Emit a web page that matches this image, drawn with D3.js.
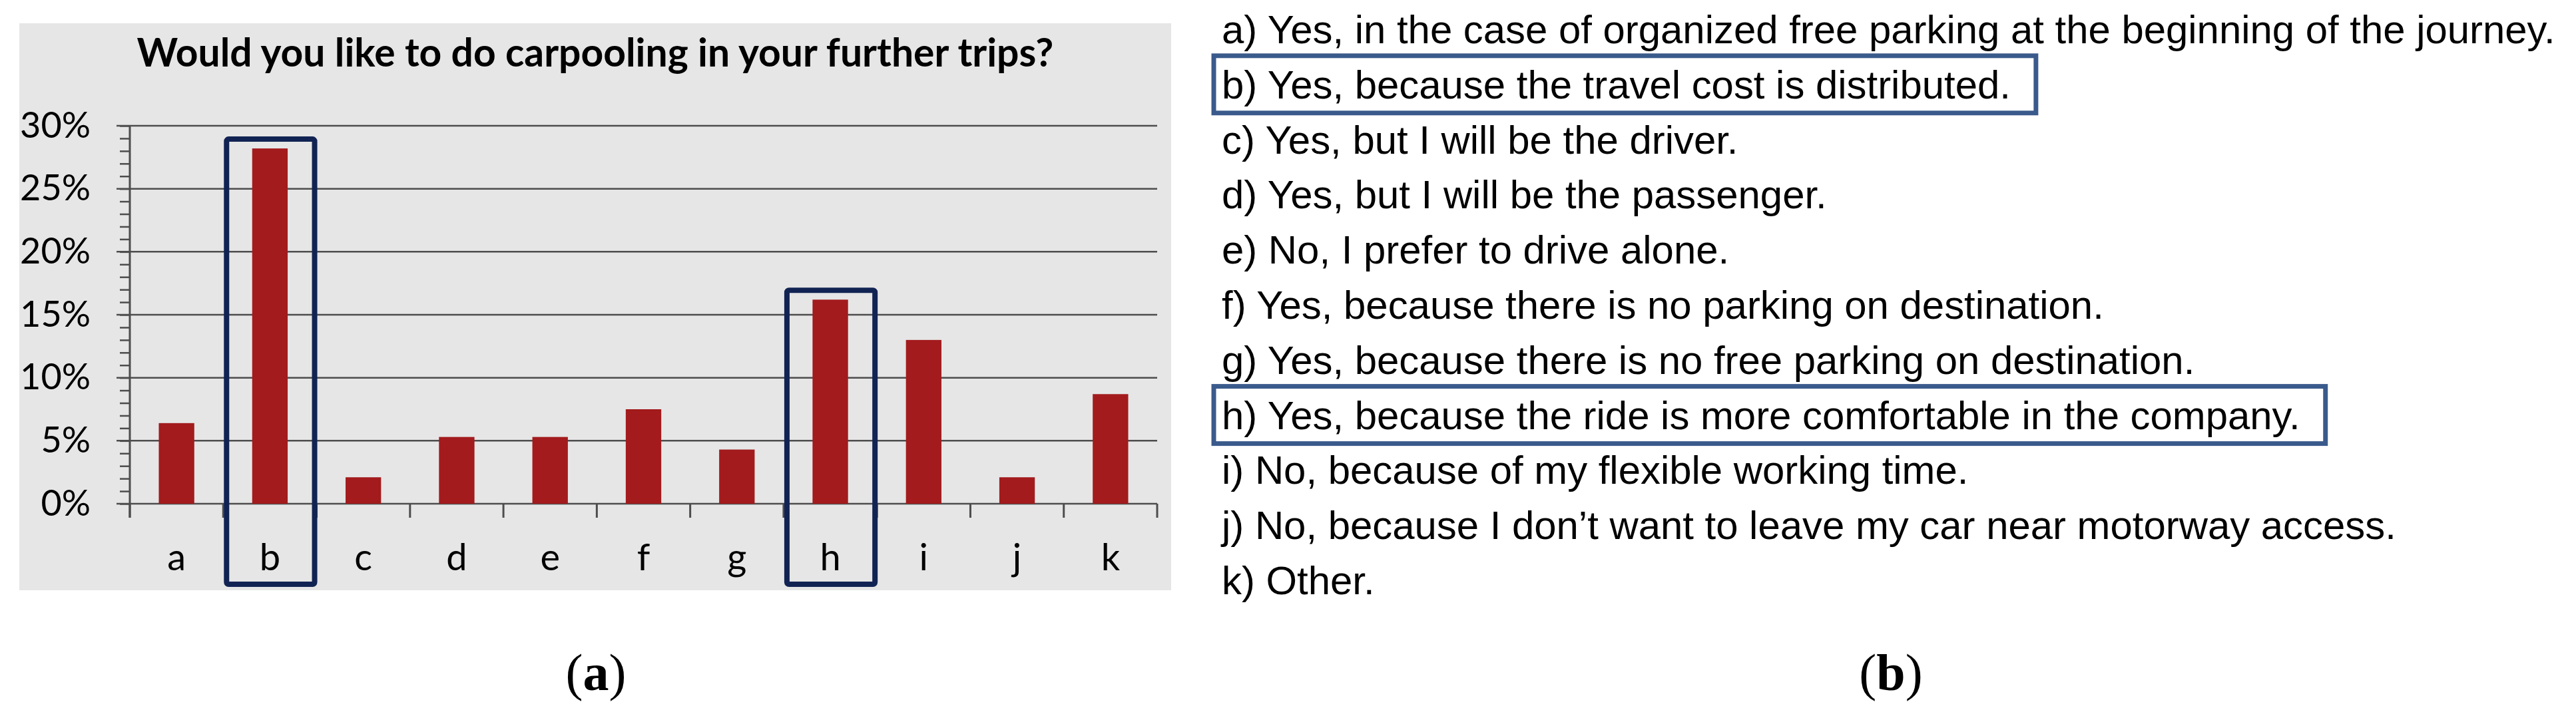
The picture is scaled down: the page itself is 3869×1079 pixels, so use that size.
<!DOCTYPE html>
<html>
  <head>
    <meta charset="utf-8">
    <title>Carpooling survey</title>
    <script src="https://d3js.org/d3.v7.min.js"></script>
    <style>
      body { margin: 0; background: #fff; }
      svg { display: block; }
    </style>
  </head>
  <body>
    <div id="chart"></div>
    <script>
      // survey answers, share of respondents
      const categories = ["a", "b", "c", "d", "e", "f", "g", "h", "i", "j", "k"];
      const shares = [0.064, 0.282, 0.021, 0.053, 0.053, 0.075, 0.043, 0.162, 0.130, 0.021, 0.087];
      const highlighted = ["b", "h"];
      const yTicks = [0, 0.05, 0.10, 0.15, 0.20, 0.25, 0.30];
      const chartTitle = "Would you like to do carpooling in your further trips?";
      const answers = [
        "a) Yes, in the case of organized free parking at the beginning of the journey.",
        "b) Yes, because the travel cost is distributed.",
        "c) Yes, but I will be the driver.",
        "d) Yes, but I will be the passenger.",
        "e) No, I prefer to drive alone.",
        "f) Yes, because there is no parking on destination.",
        "g) Yes, because there is no free parking on destination.",
        "h) Yes, because the ride is more comfortable in the company.",
        "i) No, because of my flexible working time.",
        "j) No, because I don\u2019t want to leave my car near motorway access.",
        "k) Other."
      ];

      const width = 3869, height = 1079;
      const svg = d3.select("#chart").append("svg")
          .attr("width", width)
          .attr("height", height);

      // ---- panel (a): the bar chart ----
      const plot = {left: 195, right: 1738, top: 189, bottom: 757};

      svg.append("rect")
          .attr("x", 29).attr("y", 35)
          .attr("width", 1759 - 29).attr("height", 887 - 35)
          .attr("fill", "#e6e6e6");

      const title = svg.append("text")
          .attr("x", 894).attr("y", 100)
          .attr("text-anchor", "middle")
          .style("font-family", "Lato, 'Open Sans', sans-serif")
          .style("font-weight", "bold")
          .style("font-size", "56px")
          .text(chartTitle);
      // fit the title to the width it has in the picture
      const tl = title.node().getComputedTextLength();
      title.style("font-size", (56 * 1377 / tl) + "px");

      const slot = d3.scaleBand()
          .domain(categories)
          .range([plot.left, plot.right]);
      const x = d3.scaleBand()
          .domain(categories)
          .range([plot.left, plot.right])
          .paddingInner(0.62)
          .paddingOuter(0.31);
      const y = d3.scaleLinear()
          .domain([0, 0.30])
          .range([plot.bottom, plot.top]);

      // gridlines, they run a little left of the axis
      svg.append("g")
        .selectAll("line")
        .data(yTicks)
        .join("line")
          .attr("x1", plot.left - 20)
          .attr("x2", plot.right)
          .attr("y1", d => y(d))
          .attr("y2", d => y(d))
          .attr("stroke", "#4d4d4d")
          .attr("stroke-width", 2.5);

      // minor ticks every 1%
      const minorAxis = d3.axisLeft(y)
          .tickValues(d3.range(0, 0.3001, 0.01))
          .tickSize(15)
          .tickFormat("");
      svg.append("g")
          .attr("transform", `translate(${plot.left},0)`)
          .call(minorAxis)
          .call(g => g.select(".domain").remove())
          .call(g => g.selectAll("line").attr("stroke", "#4d4d4d").attr("stroke-width", 2.5));

      const yAxis = d3.axisLeft(y)
          .tickValues(yTicks)
          .tickSize(20)
          .tickPadding(39)
          .tickFormat(d3.format(".0%"));
      svg.append("g")
          .attr("transform", `translate(${plot.left},0)`)
          .call(yAxis)
          .call(g => g.select(".domain").remove())
          .call(g => g.selectAll("line").remove())
          .call(g => g.selectAll("text")
              .attr("fill", "#000")
              .style("font-family", "Lato, 'Open Sans', sans-serif")
              .style("font-size", "54px"));

      // y axis line, reaching down to the category ticks
      svg.append("line")
          .attr("x1", plot.left).attr("x2", plot.left)
          .attr("y1", plot.top).attr("y2", plot.bottom + 21)
          .attr("stroke", "#4d4d4d").attr("stroke-width", 3);

      // ticks at slot boundaries
      const bounds = categories.map(c => slot(c)).concat([plot.right]);
      svg.append("g")
        .selectAll("line")
        .data(bounds)
        .join("line")
          .attr("x1", d => d).attr("x2", d => d)
          .attr("y1", plot.bottom)
          .attr("y2", plot.bottom + 21)
          .attr("stroke", "#4d4d4d")
          .attr("stroke-width", 3);

      svg.append("g")
        .selectAll("rect")
        .data(categories)
        .join("rect")
          .attr("x", d => x(d))
          .attr("width", x.bandwidth())
          .attr("y", (d, i) => y(shares[i]))
          .attr("height", (d, i) => y(0) - y(shares[i]))
          .attr("fill", "#a31b1d");

      svg.append("g")
        .selectAll("text")
        .data(categories)
        .join("text")
          .attr("x", d => slot(d) + slot.bandwidth() / 2)
          .attr("y", 857)
          .attr("text-anchor", "middle")
          .style("font-family", "Lato, 'Open Sans', sans-serif")
          .style("font-size", "56px")
          .text(d => d);

      // highlight boxes around b and h
      svg.append("g")
        .selectAll("rect")
        .data(highlighted)
        .join("rect")
          .attr("x", d => slot(d) + 5)
          .attr("width", slot.bandwidth() - 8)
          .attr("y", d => y(shares[categories.indexOf(d)]) - 14)
          .attr("height", d => 878 - y(shares[categories.indexOf(d)]) + 14)
          .attr("rx", 3)
          .attr("fill", "none")
          .attr("stroke", "#112352")
          .attr("stroke-width", 8);

      svg.append("text")
          .attr("x", 895).attr("y", 1037)
          .attr("text-anchor", "middle")
          .style("font-family", "'Liberation Serif', 'Times New Roman', serif")
          .style("font-size", "78px")
          .html("(<tspan font-weight='bold'>a</tspan>)");

      // ---- panel (b): the answer list ----
      const list = svg.append("g");
      const lines = list.selectAll("text")
        .data(answers)
        .join("text")
          .attr("x", 1835)
          .attr("y", (d, i) => 65 + i * 82.8)
          .style("font-family", "'Liberation Sans', Arial, sans-serif")
          .style("font-size", "58px")
          .attr("fill", "#000")
          .text(d => d);
      const firstLen = lines.nodes()[0].getComputedTextLength();
      const listSize = 58 * 2003 / firstLen;
      lines.style("font-size", listSize + "px");

      list.selectAll("rect")
        .data(highlighted)
        .join("rect")
          .attr("x", 1823)
          .attr("y", d => 65 + categories.indexOf(d) * 82.8 - 64)
          .attr("width", d => lines.nodes()[categories.indexOf(d)].getComputedTextLength() + 50)
          .attr("height", 86)
          .attr("fill", "none")
          .attr("stroke", "#3a5a8c")
          .attr("stroke-width", 7);

      svg.append("text")
          .attr("x", 2840).attr("y", 1037)
          .attr("text-anchor", "middle")
          .style("font-family", "'Liberation Serif', 'Times New Roman', serif")
          .style("font-size", "78px")
          .html("(<tspan font-weight='bold'>b</tspan>)");
    </script>
  </body>
</html>
